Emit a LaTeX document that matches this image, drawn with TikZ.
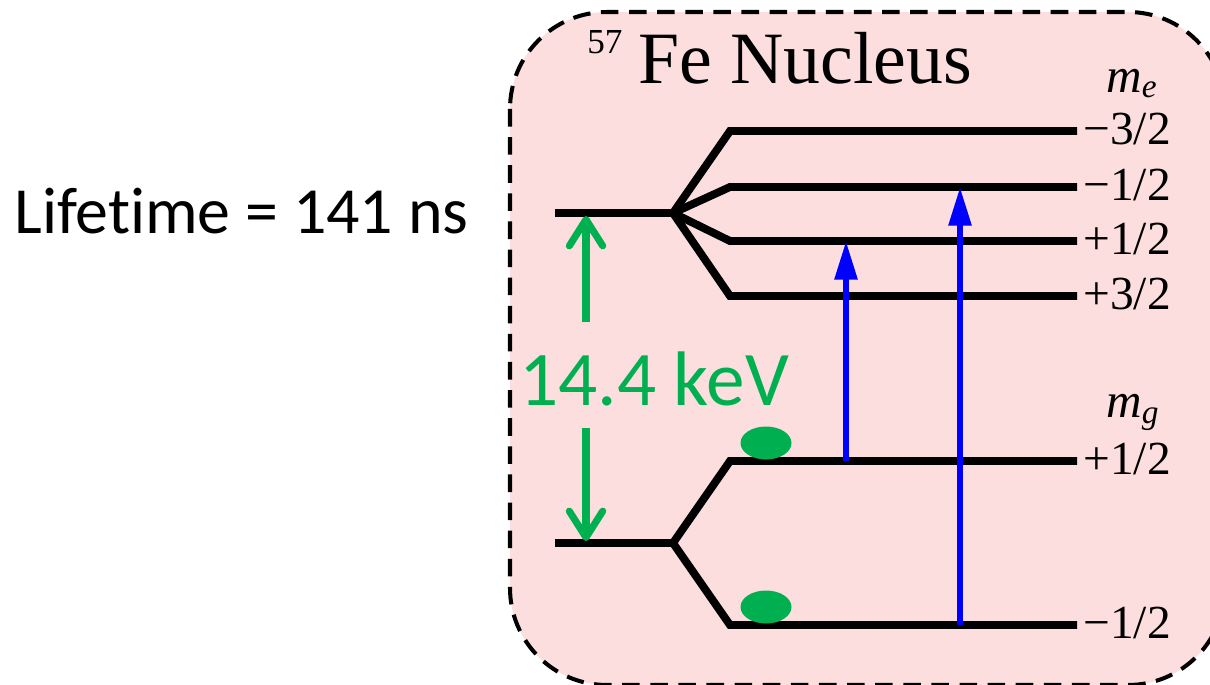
\documentclass[tikz,border=0pt]{standalone}
\usepackage{fontspec}
\setmainfont{Liberation Serif}
\newfontfamily\calibrifont[Ligatures=NoCommon]{Carlito}
\usepackage{xcolor}
\usetikzlibrary{arrows.meta, shapes.geometric}

\definecolor{nucpink}{RGB}{253,222,222}
\definecolor{gapgreen}{RGB}{0,176,80}

\begin{document}
\begin{tikzpicture}[
    x=0.02cm, y=-0.02cm,
    level/.style={line width=4.5pt, black, line join=miter},
    trans/.style={line width=3.4pt, blue, -{Triangle[length=22pt, width=12.5pt]}},
    gaparrow/.style={line width=4pt, gapgreen, -{Straight Barb[length=15pt, width=19pt, round]}},
    mval/.style={anchor=base west, inner sep=0pt, font=\fontsize{27}{27}\selectfont},
    mhead/.style={anchor=base west, inner sep=0pt, font=\fontsize{28}{28}\selectfont\itshape},
    pop/.style={ellipse, fill=gapgreen, inner sep=0pt, minimum width=1.02cm, minimum height=0.66cm}
]
    \useasboundingbox (0,0) rectangle (1210,684);

    % Nucleus box
    \draw[fill=nucpink, line width=2.3pt, dash pattern=on 10pt off 6pt, rounded corners=1.94cm]
        (510,12) rectangle (1225,685);

    % Excited state (I = 3/2)
    \coordinate (exc) at (555,213);
    \coordinate (excsplit) at (673,213);
    \coordinate (em3) at (1077,131);
    \coordinate (em1) at (1077,187);
    \coordinate (ep1) at (1077,241);
    \coordinate (ep3) at (1077,296);
    \draw[level] (exc) -- (excsplit) -- (730,131) -- (em3);
    \draw[level] (exc) -- (excsplit) -- (730,187) -- (em1);
    \draw[level] (exc) -- (excsplit) -- (730,241) -- (ep1);
    \draw[level] (exc) -- (excsplit) -- (730,296) -- (ep3);

    % Ground state (I = 1/2)
    \coordinate (gnd) at (555,543);
    \coordinate (gndsplit) at (673,543);
    \coordinate (gp1) at (1077,461);
    \coordinate (gm1) at (1077,625);
    \draw[level] (gnd) -- (gndsplit) -- (730,461) -- (gp1);
    \draw[level] (gnd) -- (gndsplit) -- (730,625) -- (gm1);

    % Populations
    \node[pop] (popup) at (766,443) {};
    \node[pop] (popdown) at (766,607) {};

    % Transitions
    \coordinate (tafrom) at (846,461);
    \coordinate (tato) at (846,241);
    \coordinate (tbfrom) at (960,625);
    \coordinate (tbto) at (960,187);
    \draw[trans] (tafrom) -- (tato);
    \draw[trans] (tbfrom) -- (tbto);

    % Energy gap
    \coordinate (gapup) at (586,322);
    \coordinate (gapdown) at (586,428);
    \draw[gaparrow] (gapup) -- (586,216);
    \draw[gaparrow] (gapdown) -- (586,541);
    \node[anchor=base west, inner sep=0pt, text=gapgreen,
          font=\calibrifont\fontsize{44}{44}\selectfont] (gaplabel) at (519,405) {14.4 keV};

    % Texts
    \node[anchor=base west, inner sep=0pt, font=\calibrifont\fontsize{37.5}{37.5}\selectfont]
        (lifetime) at (14,233) {Lifetime = 141 ns};
    \node[anchor=base west, inner sep=0pt, font=\fontsize{42}{42}\selectfont] (title) at (587,83)
        {\raisebox{17pt}{\fontsize{20}{20}\selectfont 57}\hspace{9pt}Fe Nucleus};

    % Quantum numbers
    \node[mhead] (me) at (1106,92) {m\raisebox{-3pt}{\fontsize{19}{19}\selectfont e}};
    \node[mval] (lem3) at (1083,144) {−3/2};
    \node[mval] (lem1) at (1083,200) {−1/2};
    \node[mval] (lep1) at (1083,254) {+1/2};
    \node[mval] (lep3) at (1083,309) {+3/2};
    \node[mhead] (mg) at (1106,417) {m\raisebox{-3.5pt}{\fontsize{19}{19}\selectfont g}};
    \node[mval] (lgp1) at (1083,474) {+1/2};
    \node[mval] (lgm1) at (1083,638) {−1/2};

\end{tikzpicture}
\end{document}
